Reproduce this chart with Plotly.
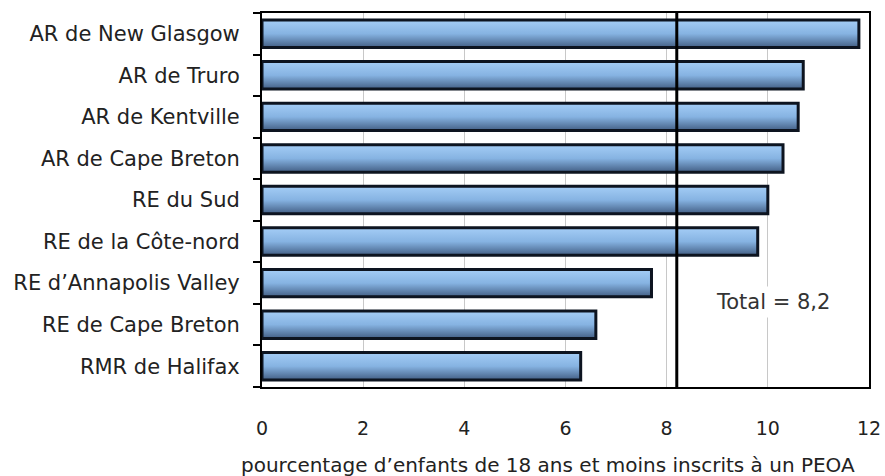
import plotly.graph_objects as go

categories = ["AR de New Glasgow", "AR de Truro", "AR de Kentville", "AR de Cape Breton",
              "RE du Sud", "RE de la Côte-nord", "RE d’Annapolis Valley",
              "RE de Cape Breton", "RMR de Halifax"]
values = [11.8, 10.7, 10.6, 10.3, 10.0, 9.8, 7.7, 6.6, 6.3]
total_value = 8.2
total_label = "Total = 8,2"
x_ticks = [0, 2, 4, 6, 8, 10, 12]
x_title = "pourcentage d’enfants de 18 ans et moins inscrits à un PEOA"

half = 0.33
fig = go.Figure()
for i, v in enumerate(values):
    xs = [0, v, v, 0, 0]
    ys = [i - half, i - half, i + half, i + half, i - half]
    fig.add_trace(go.Scatter(
        x=xs, y=ys, mode="lines", fill="toself",
        line=dict(color="#0d1420", width=3),
        fillgradient=dict(type="vertical",
                          colorscale=[[0, "#435f85"], [0.5, "#86b3e2"], [1, "#a4cdf6"]]),
        showlegend=False, hoverinfo="skip"))

fig.add_trace(go.Scatter(x=[total_value, total_value], y=[-0.5, len(values) - 0.5],
                         mode="lines", line=dict(color="black", width=3),
                         showlegend=False, hoverinfo="skip"))

fig.add_annotation(x=10.1, y=6.45, text=total_label, showarrow=False,
                   font=dict(family="DejaVu Sans", size=21, color="#333333"),
                   bgcolor="white", borderpad=3)

fig.add_annotation(x=0.471, y=0, xref="paper", yref="paper", yshift=-78,
                   text=x_title, showarrow=False, xanchor="center", yanchor="middle",
                   font=dict(family="DejaVu Sans", size=20, color="#222222"))

fig.update_layout(
    width=885, height=476,
    margin=dict(l=262, r=16, t=13, b=89),
    plot_bgcolor="white", paper_bgcolor="white",
    font=dict(family="DejaVu Sans", size=20, color="#222222"),
)
fig.update_xaxes(
    range=[0, 12], tickvals=x_ticks, ticktext=[str(t) for t in x_ticks],
    showgrid=True, gridcolor="#c8c8c8", gridwidth=1, automargin=False,
    zeroline=False, showline=True, linecolor="black", linewidth=1.5, mirror=True,
    ticks="", ticklabelstandoff=23,
    tickfont=dict(family="DejaVu Sans", size=19, color="#222222"),
)
fig.update_yaxes(
    range=[len(values) - 0.5, -0.5], tickvals=list(range(len(values))), ticktext=categories,
    showgrid=False, zeroline=False, showline=True, linecolor="black", linewidth=2, mirror=True,
    ticks="", ticklabelstandoff=16, automargin=False,
    tickfont=dict(family="DejaVu Sans", size=21, color="#222222"),
    minor=dict(tickvals=[i + 0.5 for i in range(-1, len(values))], ticks="outside",
               ticklen=7, tickcolor="black", tickwidth=1.5, showgrid=False),
)

fig.write_html("out.html")
